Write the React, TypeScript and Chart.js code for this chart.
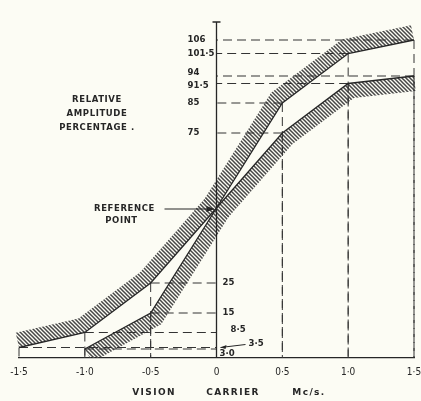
import React, { useEffect, useRef } from 'react';
import { Chart, registerables } from 'chart.js';
Chart.register(...registerables);

// ---- data ----
const offsetsA = [-1.5, -1.0, -0.5, 0, 0.5, 1.0, 1.5];
const amplitudeA = [3.5, 8.5, 25, 50, 75, 91.5, 94];
const offsetsB = [-1.0, -0.5, 0, 0.5, 1.0, 1.5];
const amplitudeB = [3.0, 15, 50, 85, 101.5, 106];
const xTickValues = [-1.5, -1.0, -0.5, 0, 0.5, 1.0, 1.5];
const yTickValues = [106, 101.5, 94, 91.5, 85, 75, 25, 15, 8.5, 3.5, 3.0];
const yTickLabels = ['106', '101·5', '94', '91·5', '85', '75', '25', '15', '8·5', '3·5', '3·0'];
const referencePoint = { x: 0, y: 50 };
const yTitleLines = ['RELATIVE', 'AMPLITUDE', 'PERCENTAGE .'];
const xTitleWords = ['VISION', 'CARRIER', 'Mc/s.'];
const refLabelLines = ['REFERENCE', 'POINT'];

// ---- styles ----
const BG = '#fcfcf4';
const INK = '#262626';
const LABEL_FONT = "bold 8.5px 'DejaVu Sans', sans-serif";
const NUM_FONT = "bold 9.5px 'DejaVu Sans Condensed', 'DejaVu Sans', sans-serif";
// label placement relative to the y axis (dx) and the value's pixel (dy)
const yLabelStyle: Record<string, { dx: number; dy: number; arrow?: boolean }> = {
  '106': { dx: -29, dy: 0 },
  '101·5': { dx: -29, dy: 0 },
  '94': { dx: -29, dy: -3 },
  '91·5': { dx: -29, dy: 2 },
  '85': { dx: -29, dy: 0 },
  '75': { dx: -29, dy: 0 },
  '25': { dx: 6, dy: 0 },
  '15': { dx: 6, dy: 0 },
  '8·5': { dx: 14, dy: -3 },
  '3·5': { dx: 32, dy: -4, arrow: true },
  '3·0': { dx: 3, dy: 5 },
};

function fmtX(v: number) {
  if (v === 0) return '0';
  const s = Math.abs(v).toFixed(1).replace('.', '·');
  return (v < 0 ? '-' : '') + s;
}

function makePattern(ctx: CanvasRenderingContext2D) {
  const c = document.createElement('canvas');
  c.width = 4; c.height = 4;
  const g = c.getContext('2d')!;
  g.strokeStyle = '#474747';
  g.lineWidth = 1.5;
  g.beginPath();
  g.moveTo(-1, -1); g.lineTo(5, 5);
  g.moveTo(-1, 3); g.lineTo(1, 5);
  g.moveTo(3, -1); g.lineTo(5, 1);
  g.stroke();
  return ctx.createPattern(c, 'repeat')!;
}

type P = { x: number; y: number };
function offsetPolyline(pts: P[], dist: number): P[] {
  const n = pts.length;
  const segN: P[] = [];
  for (let i = 0; i < n - 1; i++) {
    const dx = pts[i + 1].x - pts[i].x, dy = pts[i + 1].y - pts[i].y;
    const len = Math.hypot(dx, dy) || 1;
    segN.push({ x: dy / len, y: -dx / len });
  }
  const out: P[] = [];
  for (let i = 0; i < n; i++) {
    let nx: number, ny: number;
    if (i === 0) { nx = segN[0].x; ny = segN[0].y; }
    else if (i === n - 1) { nx = segN[n - 2].x; ny = segN[n - 2].y; }
    else {
      let ax = segN[i - 1].x + segN[i].x, ay = segN[i - 1].y + segN[i].y;
      const l = Math.hypot(ax, ay) || 1; ax /= l; ay /= l;
      const cos = ax * segN[i].x + ay * segN[i].y || 1;
      nx = ax / cos; ny = ay / cos;
    }
    out.push({ x: pts[i].x + nx * dist, y: pts[i].y + ny * dist });
  }
  return out;
}

const hatchPlugin = {
  id: 'hatch',
  beforeDatasetsDraw(chart: any) {
    const ctx: CanvasRenderingContext2D = chart.ctx;
    const pattern = makePattern(ctx);
    const bottom = chart.chartArea.bottom;
    chart.data.datasets.forEach((ds: any, di: number) => {
      const meta = chart.getDatasetMeta(di);
      const pts: P[] = meta.data.map((el: any) => ({ x: el.x, y: el.y }));
      const xs: number[] = ds.data.map((d: any) => d.x);
      const zi = xs.indexOf(0);
      const halves: [P[], number][] = [
        [pts.slice(0, zi + 1), ds.hatchSides[0]],
        [pts.slice(zi), ds.hatchSides[1]],
      ];
      halves.forEach(([seg, side]) => {
        if (seg.length < 2) return;
        const off = offsetPolyline(seg, side * ds.hatchWidth);
        ctx.save();
        ctx.beginPath();
        ctx.rect(0, 0, chart.width, bottom);
        ctx.clip();
        ctx.beginPath();
        seg.forEach((p, i) => (i ? ctx.lineTo(p.x, p.y) : ctx.moveTo(p.x, p.y)));
        for (let i = off.length - 1; i >= 0; i--) ctx.lineTo(off[i].x, off[i].y);
        ctx.closePath();
        ctx.fillStyle = pattern;
        ctx.fill();
        ctx.restore();
      });
    });

    // dashed drop lines from every point to both axes
    const xs = chart.scales.x, ys = chart.scales.y;
    const x0 = xs.getPixelForValue(0);
    ctx.save();
    ctx.strokeStyle = '#333333';
    ctx.lineWidth = 1;
    ctx.setLineDash([9, 5]);
    chart.data.datasets.forEach((ds: any) => {
      ds.data.forEach((d: any) => {
        if (d.x === 0) return;
        const px = xs.getPixelForValue(d.x), py = ys.getPixelForValue(d.y);
        ctx.beginPath();
        ctx.moveTo(px, py); ctx.lineTo(x0, py);
        ctx.moveTo(px, py); ctx.lineTo(px, bottom);
        ctx.stroke();
      });
    });
    ctx.restore();

    // vertical amplitude axis through zero
    const { top } = chart.chartArea;
    ctx.save();
    ctx.strokeStyle = INK;
    ctx.lineWidth = 1.3;
    ctx.beginPath();
    ctx.moveTo(x0, top); ctx.lineTo(x0, bottom);
    ctx.moveTo(x0 - 4, top); ctx.lineTo(x0 + 4, top);
    ctx.stroke();
    ctx.restore();
  },
  afterDraw(chart: any) {
    const ctx: CanvasRenderingContext2D = chart.ctx;
    const xs = chart.scales.x, ys = chart.scales.y;
    const x0 = xs.getPixelForValue(0);
    ctx.save();
    ctx.fillStyle = INK;
    ctx.strokeStyle = INK;
    ctx.textBaseline = 'middle';
    ctx.textAlign = 'left';
    ctx.font = NUM_FONT;
    yTickValues.forEach((v, i) => {
      const lab = yTickLabels[i];
      const st = yLabelStyle[lab];
      const py = ys.getPixelForValue(v);
      const tx = x0 + st.dx, ty = py + st.dy;
      ctx.fillText(lab, tx, ty);
      if (st.arrow) {
        const ax = x0 + 4;
        ctx.lineWidth = 1;
        ctx.beginPath();
        ctx.moveTo(tx - 3, ty + 1);
        ctx.lineTo(ax, py);
        ctx.stroke();
        ctx.beginPath();
        ctx.moveTo(ax, py);
        ctx.lineTo(ax + 6, py - 2.5);
        ctx.lineTo(ax + 5, py + 1.5);
        ctx.closePath();
        ctx.fill();
      }
    });

    // reference point label + arrow
    const rx = xs.getPixelForValue(referencePoint.x), ry = ys.getPixelForValue(referencePoint.y);
    ctx.font = LABEL_FONT;
    (ctx as any).letterSpacing = '0.6px';
    ctx.textAlign = 'center';
    ctx.fillText(refLabelLines[0], rx - 92, ry + 1);
    ctx.fillText(refLabelLines[1], rx - 95, ry + 13);
    ctx.lineWidth = 1.2;
    ctx.beginPath();
    ctx.moveTo(rx - 52, ry + 1);
    ctx.lineTo(rx - 3, ry + 1);
    ctx.stroke();
    ctx.beginPath();
    ctx.moveTo(rx - 2, ry + 1);
    ctx.lineTo(rx - 10, ry - 2);
    ctx.lineTo(rx - 10, ry + 4);
    ctx.closePath();
    ctx.fill();

    // y title
    yTitleLines.forEach((t, i) => ctx.fillText(t, 97, 100 + i * 14));

    // x title
    (ctx as any).letterSpacing = '1.4px';
    ctx.font = "bold 9px 'DejaVu Sans', sans-serif";
    const xtPos = [154, 233, 309];
    xTitleWords.forEach((w, i) => ctx.fillText(w, xtPos[i], 393));
    ctx.restore();
  },
};

export default function App() {
  const ref = useRef<HTMLCanvasElement>(null);
  useEffect(() => {
    const chart = new Chart(ref.current!, {
      type: 'line',
      data: {
        datasets: [
          {
            label: 'A',
            data: offsetsA.map((x, i) => ({ x, y: amplitudeA[i] })),
            borderColor: INK,
            borderWidth: 1.3,
            pointRadius: 0,
            tension: 0,
            hatchSides: [1, -1],
            hatchWidth: 15,
          } as any,
          {
            label: 'B',
            data: offsetsB.map((x, i) => ({ x, y: amplitudeB[i] })),
            borderColor: INK,
            borderWidth: 1.3,
            pointRadius: 0,
            tension: 0,
            hatchSides: [-1, 1],
            hatchWidth: 15,
          } as any,
        ],
      },
      options: {
        animation: false,
        responsive: true,
        maintainAspectRatio: false,
        layout: { padding: { left: 19, right: 7, top: 22, bottom: 15 } },
        plugins: { legend: { display: false }, tooltip: { enabled: false } },
        scales: {
          x: {
            type: 'linear',
            min: -1.5,
            max: 1.5,
            afterBuildTicks: (s: any) => { s.ticks = xTickValues.map((v) => ({ value: v })); },
            afterFit: (s: any) => { s.paddingLeft = 0; s.paddingRight = 0; },
            ticks: {
              callback: (v: any) => fmtX(Number(v)),
              color: INK,
              font: { family: "'DejaVu Sans Condensed', 'DejaVu Sans', sans-serif", size: 10 },
              padding: 8,
              autoSkip: false,
              maxRotation: 0,
            },
            grid: { display: false, drawTicks: false },
            border: { display: true, color: INK, width: 1.3 },
          },
          y: { type: 'linear', min: 0, max: 112, display: false },
        },
      },
      plugins: [hatchPlugin],
    });
    return () => chart.destroy();
  }, []);
  return (
    <div style={{ position: 'absolute', left: 0, top: 0, width: 421, height: 401, background: BG }}>
      <canvas ref={ref} />
    </div>
  );
}
